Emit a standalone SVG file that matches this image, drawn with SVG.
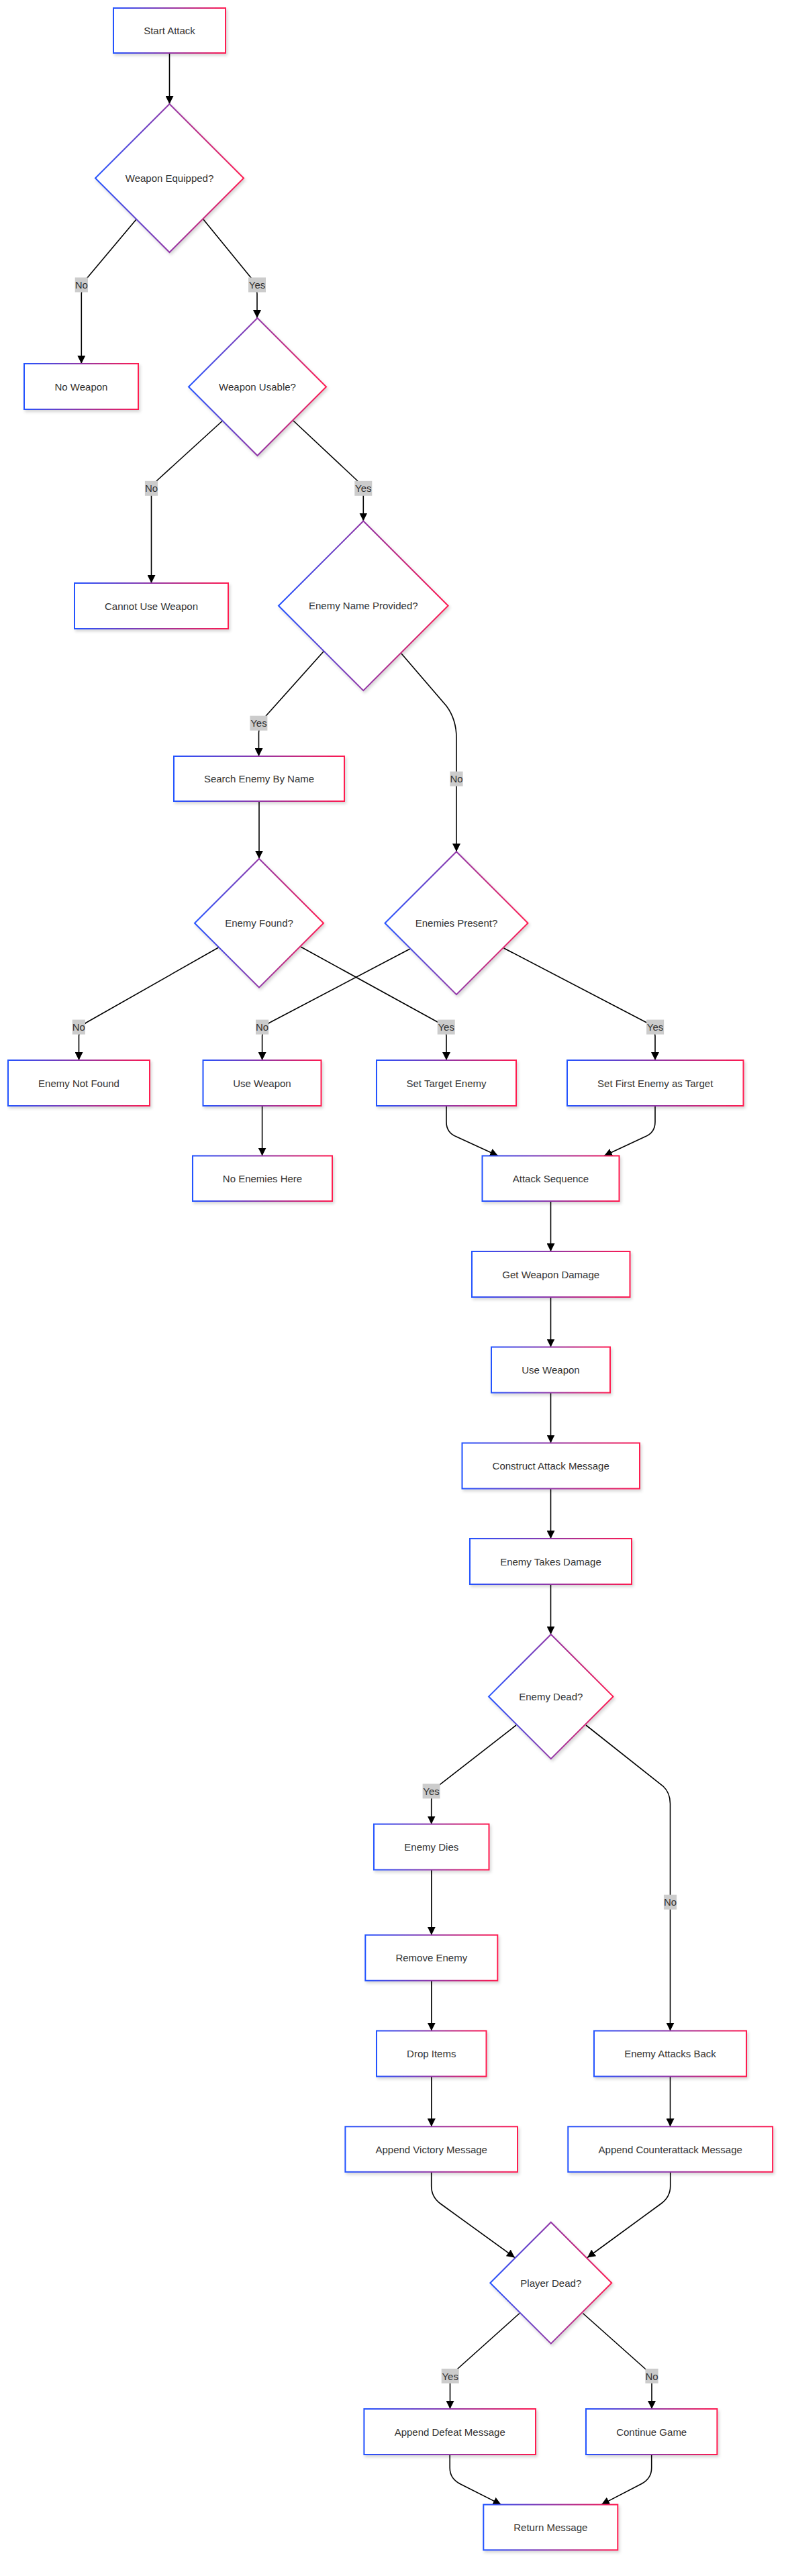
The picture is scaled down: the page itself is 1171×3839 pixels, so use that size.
<svg xmlns="http://www.w3.org/2000/svg" width="1171" height="3839" viewBox="0 0 1171 3839">
<defs>
<linearGradient id="grad" x1="0" y1="0" x2="1" y2="0">
<stop offset="0" stop-color="#2453ff"/>
<stop offset="1" stop-color="#ff1a50"/>
</linearGradient>
<filter id="sh" x="-10%" y="-10%" width="130%" height="140%">
<feDropShadow dx="2" dy="3" stdDeviation="2" flood-color="#000" flood-opacity="0.16"/>
</filter>
<marker id="arr" markerUnits="userSpaceOnUse" markerWidth="12" markerHeight="12" refX="12" refY="6" orient="auto">
<path d="M0,0 L12,6 L0,12 z" fill="#000"/>
</marker>
<style>
.n rect,.n polygon{fill:#fff;stroke:url(#grad);stroke-width:2;filter:url(#sh)}
.n text{font-family:"Liberation Sans",Arial,sans-serif;font-size:15px;fill:#333;text-anchor:middle;dominant-baseline:central}
.e path{fill:none;stroke:#000;stroke-width:1.6;marker-end:url(#arr)}
.l rect{fill:#cccccc}
.l text{font-family:"Liberation Sans",Arial,sans-serif;font-size:15px;fill:#333;text-anchor:middle;dominant-baseline:central}
</style>
</defs>
<rect width="1171" height="3839" fill="#fff"/>
<g id="edges" class="e">
<path d="M252.5,79 L252.5,155"/>
<path d="M203,327 L130,414 Q121.3,425 121.3,438 L121.3,542"/>
<path d="M303,327 L374,414 Q383,425 383,438 L383,474"/>
<path d="M331.6,627 L234,716 Q225.5,725 225.5,738 L225.5,869"/>
<path d="M437,627 L532,716 Q541.3,725 541.3,738 L541.3,776.5"/>
<path d="M482.4,970.5 L397,1066 Q385.5,1079 385.5,1092 L385.5,1127"/>
<path d="M598,974 L665,1052 Q680,1072 680,1100 L680,1269.2"/>
<path d="M386,1194 L386,1279.7"/>
<path d="M325.6,1412 L128.5,1524 Q117.5,1531 117.5,1544 L117.5,1580"/>
<path d="M448,1411 L653.5,1524 Q665,1531 665,1544 L665,1580"/>
<path d="M611,1414 L401.8,1524 Q390.6,1531 390.6,1544 L390.6,1580"/>
<path d="M750.6,1413 L963.4,1524 Q976,1531 976,1544 L976,1580"/>
<path d="M390.6,1648 L390.6,1722.5"/>
<path d="M665,1648 L665,1672 Q665,1688 680,1694 L742,1722.5"/>
<path d="M976,1648 L976,1672 Q976,1688 961,1694 L900,1722.5"/>
<path d="M820.5,1790 L820.5,1865"/>
<path d="M820.5,1933 L820.5,2007.5"/>
<path d="M820.5,2075.5 L820.5,2150.5"/>
<path d="M820.5,2218.5 L820.5,2293"/>
<path d="M820.5,2361 L820.5,2435.7"/>
<path d="M769,2571 L654.6,2660 Q642.7,2670 642.7,2682 L642.7,2718.5"/>
<path d="M873,2571 L988,2662 Q998.5,2672 998.5,2688 L998.5,3026.5"/>
<path d="M642.8,2786.7 L642.8,2883.7"/>
<path d="M642.8,2951.7 L642.8,3026.5"/>
<path d="M642.8,3094.5 L642.8,3169.3"/>
<path d="M998.5,3094.5 L998.5,3169.3"/>
<path d="M642.7,3236.8 L642.7,3258 Q642.7,3274 656,3284 L767,3364.5"/>
<path d="M998.7,3236.8 L998.7,3258 Q998.7,3274 985,3284 L875,3364.5"/>
<path d="M774,3447.5 L682,3530 Q670.5,3540 670.5,3552 L670.5,3590"/>
<path d="M868.4,3447.5 L961,3530 Q971,3540 971,3552 L971,3590"/>
<path d="M670.2,3658 L670.2,3678 Q670.2,3694 686,3702 L746.6,3732.6"/>
<path d="M970.7,3658 L970.7,3678 Q970.7,3694 955,3702 L896,3732.6"/>
</g>
<g id="labels" class="l">
<g><rect x="111.7" y="413.5" width="19.2" height="22"/><text x="121.3" y="424.5">No</text></g>
<g><rect x="370" y="413.5" width="26" height="22"/><text x="383" y="424.5">Yes</text></g>
<g><rect x="215.9" y="716.8" width="19.2" height="22"/><text x="225.5" y="727.8">No</text></g>
<g><rect x="528.3" y="716.8" width="26" height="22"/><text x="541.3" y="727.8">Yes</text></g>
<g><rect x="372.4" y="1066.7" width="26" height="22"/><text x="385.4" y="1077.7">Yes</text></g>
<g><rect x="670.4" y="1149.7" width="19.2" height="22"/><text x="680" y="1160.7">No</text></g>
<g><rect x="107.7" y="1519.6" width="19.2" height="22"/><text x="117.3" y="1530.6">No</text></g>
<g><rect x="381" y="1519.6" width="19.2" height="22"/><text x="390.6" y="1530.6">No</text></g>
<g><rect x="651.7" y="1519.6" width="26" height="22"/><text x="664.7" y="1530.6">Yes</text></g>
<g><rect x="963.1" y="1519.6" width="26" height="22"/><text x="976.1" y="1530.6">Yes</text></g>
<g><rect x="629.6" y="2658.4" width="26" height="22"/><text x="642.6" y="2669.4">Yes</text></g>
<g><rect x="988.9" y="2823.7" width="19.2" height="22"/><text x="998.5" y="2834.7">No</text></g>
<g><rect x="657.7" y="3530" width="26" height="22"/><text x="670.7" y="3541">Yes</text></g>
<g><rect x="961.4" y="3530" width="19.2" height="22"/><text x="971" y="3541">No</text></g>
</g>
<g id="start" class="n"><rect x="169" y="12" width="167" height="67"/><text x="252.5" y="45.5">Start Attack</text></g>
<g id="weaponEquipped" class="n"><polygon points="252.5,155 363,265.5 252.5,376 142,265.5"/><text x="252.5" y="265.5">Weapon Equipped?</text></g>
<g id="noWeapon" class="n"><rect x="36" y="542" width="170" height="68"/><text x="121" y="576">No Weapon</text></g>
<g id="weaponUsable" class="n"><polygon points="383.5,474 486,576.5 383.5,679 281,576.5"/><text x="383.5" y="576.5">Weapon Usable?</text></g>
<g id="cannotUse" class="n"><rect x="111" y="869" width="229" height="68"/><text x="225.5" y="903">Cannot Use Weapon</text></g>
<g id="enemyNameProvided" class="n"><polygon points="541.3,776.5 667.6,902.8 541.3,1029.1 415,902.8"/><text x="541.3" y="902.8">Enemy Name Provided?</text></g>
<g id="searchEnemy" class="n"><rect x="259" y="1127" width="254" height="67"/><text x="386" y="1160.5">Search Enemy By Name</text></g>
<g id="enemyFound" class="n"><polygon points="386,1279.7 482,1375.7 386,1471.7 290,1375.7"/><text x="386" y="1375.7">Enemy Found?</text></g>
<g id="enemiesPresent" class="n"><polygon points="680,1269.2 786.5,1375.7 680,1482.2 573.5,1375.7"/><text x="680" y="1375.7">Enemies Present?</text></g>
<g id="enemyNotFound" class="n"><rect x="12" y="1580" width="211" height="68"/><text x="117.5" y="1614">Enemy Not Found</text></g>
<g id="useWeapon1" class="n"><rect x="302.5" y="1580" width="176" height="68"/><text x="390.5" y="1614">Use Weapon</text></g>
<g id="setTarget" class="n"><rect x="561" y="1580" width="208" height="68"/><text x="665" y="1614">Set Target Enemy</text></g>
<g id="setFirst" class="n"><rect x="845" y="1580" width="262.5" height="68"/><text x="976.2" y="1614">Set First Enemy as Target</text></g>
<g id="noEnemies" class="n"><rect x="287" y="1722.5" width="208" height="67.5"/><text x="391" y="1756">No Enemies Here</text></g>
<g id="attackSequence" class="n"><rect x="718.5" y="1722.5" width="204" height="67.5"/><text x="820.5" y="1756">Attack Sequence</text></g>
<g id="getDamage" class="n"><rect x="703" y="1865" width="235.5" height="68"/><text x="820.7" y="1899">Get Weapon Damage</text></g>
<g id="useWeapon2" class="n"><rect x="732" y="2007.5" width="177" height="68"/><text x="820.5" y="2041.5">Use Weapon</text></g>
<g id="constructMessage" class="n"><rect x="688.5" y="2150.5" width="264.5" height="68"/><text x="820.7" y="2184.5">Construct Attack Message</text></g>
<g id="takesDamage" class="n"><rect x="700" y="2293" width="241" height="68"/><text x="820.5" y="2327">Enemy Takes Damage</text></g>
<g id="enemyDead" class="n"><polygon points="820.8,2435.7 913.5,2528.4 820.8,2621.1 728.1,2528.4"/><text x="820.8" y="2528.4">Enemy Dead?</text></g>
<g id="enemyDies" class="n"><rect x="557" y="2718.5" width="171.5" height="68"/><text x="642.8" y="2752.5">Enemy Dies</text></g>
<g id="removeEnemy" class="n"><rect x="544.3" y="2883.7" width="197" height="68"/><text x="642.8" y="2917.7">Remove Enemy</text></g>
<g id="dropItems" class="n"><rect x="561" y="3026.5" width="163.5" height="68"/><text x="642.8" y="3060.5">Drop Items</text></g>
<g id="attacksBack" class="n"><rect x="885" y="3026.5" width="227" height="68"/><text x="998.5" y="3060.5">Enemy Attacks Back</text></g>
<g id="victoryMessage" class="n"><rect x="514.4" y="3169.3" width="256.6" height="67.5"/><text x="642.7" y="3203">Append Victory Message</text></g>
<g id="counterMessage" class="n"><rect x="846.3" y="3169.3" width="304.8" height="67.5"/><text x="998.7" y="3203">Append Counterattack Message</text></g>
<g id="playerDead" class="n"><polygon points="820.8,3311.7 911.3,3402.2 820.8,3492.7 730.3,3402.2"/><text x="820.8" y="3402.2">Player Dead?</text></g>
<g id="defeatMessage" class="n"><rect x="542.4" y="3590" width="255.6" height="68"/><text x="670.2" y="3624">Append Defeat Message</text></g>
<g id="continueGame" class="n"><rect x="873" y="3590" width="195.4" height="68"/><text x="970.7" y="3624">Continue Game</text></g>
<g id="returnMessage" class="n"><rect x="720.3" y="3732.6" width="200" height="67.7"/><text x="820.3" y="3766.5">Return Message</text></g>
</svg>
